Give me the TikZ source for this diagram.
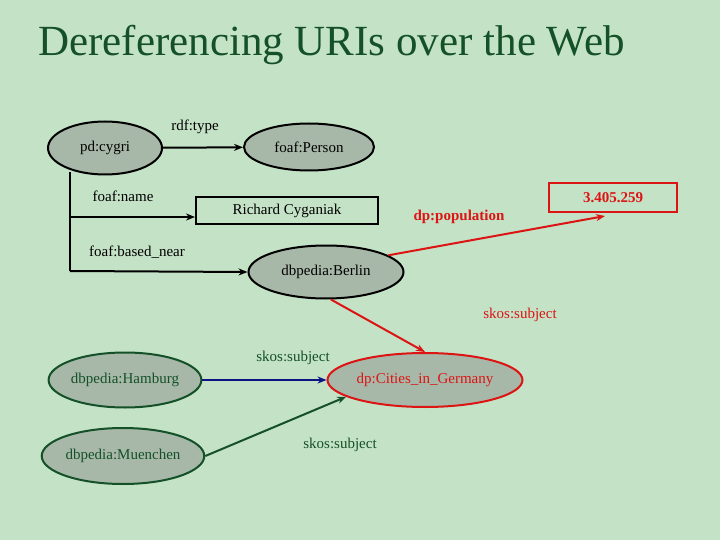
\documentclass[tikz,border=0pt]{standalone}
\usepackage{fontspec}
\setmainfont{Liberation Serif}
\usetikzlibrary{shapes.geometric,arrows.meta}
\definecolor{bgc}{RGB}{196,226,198}
\definecolor{nodef}{RGB}{168,184,168}
\definecolor{dgreen}{RGB}{20,80,40}
\definecolor{rred}{RGB}{220,20,20}
\definecolor{bblue}{RGB}{10,20,130}
\tikzset{
 ell/.style={ellipse,draw=black,line width=2pt,fill=nodef,inner sep=0pt,font=\fontsize{15}{18}\selectfont},
 lbl/.style={font=\fontsize{15}{18}\selectfont},
 edge/.style={line width=2pt,-{Stealth[length=9pt,width=7pt]}},
}
\begin{document}
\begin{tikzpicture}[x=1pt,y=-1pt]
\useasboundingbox (0,0) rectangle (720,540);
\fill[bgc] (0,0) rectangle (720,540);
\node[font=\fontsize{43}{48}\selectfont,text=dgreen,anchor=west,inner sep=0pt] (title) at (38,45) {Dereferencing URIs over the Web};
\node[ell,minimum width=114,minimum height=53] (cygri) at (105,148) {pd:cygri};
\node[ell,minimum width=130,minimum height=47] (person) at (309,147) {foaf:Person};
\node[draw=black,line width=2pt,minimum width=182,minimum height=27,inner sep=0pt,lbl] (name) at (287,211) {Richard Cyganiak};
\node[ell,minimum width=155,minimum height=53] (berlin) at (326,272) {dbpedia:Berlin};
\node[draw=rred,line width=2pt,minimum width=128,minimum height=29,inner sep=0pt,text=rred,font=\fontsize{15}{18}\selectfont\bfseries] (pop) at (613,198) {3.405.259};
\node[ell,draw=rred,text=rred,minimum width=195,minimum height=54] (cities) at (425,380) {dp:Cities\_in\_Germany};
\node[ell,draw=dgreen,text=dgreen,minimum width=151,minimum height=55] (hamburg) at (125,380) {dbpedia:Hamburg};
\node[ell,draw=dgreen,text=dgreen,minimum width=159,minimum height=56] (muenchen) at (123,456) {dbpedia:Muenchen};
\coordinate (cbot) at (70,172);
\coordinate (c1) at (70,217);
\coordinate (c2) at (70,271);
\coordinate (popend) at (605,216);
\draw[edge] (cygri) -- (person);
\draw[line width=2pt] (cbot) -- (c2);
\draw[edge] (c1) -- (c1 -| name.west);
\draw[edge] (c2) -- (berlin.west);
\draw[edge,rred] (berlin.15) -- (popend);
\draw[edge,rred] (berlin.-80) -- (cities.north);
\draw[edge,bblue] (hamburg.east) -- (cities.west);
\draw[edge,dgreen] (muenchen.east) -- (cities.192);
\node[lbl] (l1) at (195,127) {rdf:type};
\node[lbl] (l2) at (123,196) {foaf:name};
\node[lbl] (l3) at (137,252) {foaf:based\_near};
\node[text=rred,font=\fontsize{15}{18}\selectfont\bfseries] (l4) at (459,217) {dp:population};
\node[lbl,text=rred] (l5) at (520,315) {skos:subject};
\node[lbl,text=dgreen] (l6) at (293,358) {skos:subject};
\node[lbl,text=dgreen] (l7) at (340,445) {skos:subject};
\end{tikzpicture}
\end{document}
